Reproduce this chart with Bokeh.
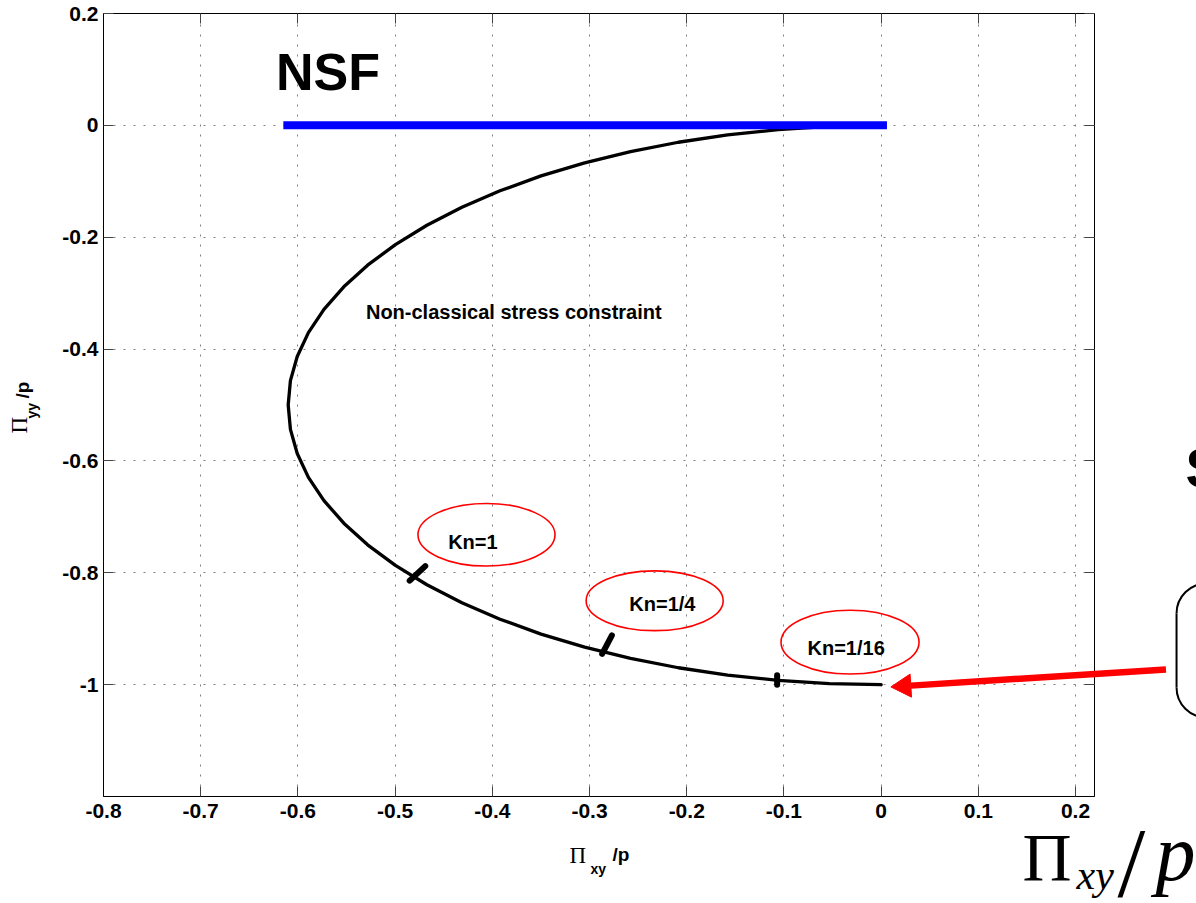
import math
from bokeh.plotting import figure
from bokeh.models import Range1d, LinearAxis, FixedTicker, ColumnDataSource
from bokeh.core.properties import value
from bokeh.embed import file_html
from bokeh.resources import INLINE

# ---------------- data ----------------
curve_x = [0.0, -0.0532, -0.1059, -0.1579, -0.2086, -0.2578, -0.3050, -0.3499, -0.3921, -0.4313,
           -0.4673, -0.4997, -0.5283, -0.5528, -0.5732, -0.5892, -0.6007, -0.6077, -0.6100,
           -0.6077, -0.6007, -0.5892, -0.5732, -0.5528, -0.5283, -0.4997, -0.4673, -0.4313,
           -0.3921, -0.3499, -0.3050, -0.2578, -0.2086, -0.1579, -0.1059, -0.0532, 0.0]
curve_y = [0.0, -0.0019, -0.0076, -0.0170, -0.0302, -0.0468, -0.0670, -0.0904, -0.1170, -0.1464,
           -0.1786, -0.2132, -0.2500, -0.2887, -0.3290, -0.3706, -0.4132, -0.4564, -0.5000,
           -0.5436, -0.5868, -0.6294, -0.6710, -0.7113, -0.7500, -0.7868, -0.8214, -0.8536,
           -0.8830, -0.9096, -0.9330, -0.9532, -0.9698, -0.9830, -0.9924, -0.9981, -1.0]

nsf_x = [-0.615, 0.006]
nsf_y = [0.0, 0.0]

kn_labels = ["Kn=1", "Kn=1/4", "Kn=1/16"]
kn_text_x = [-0.420, -0.225, -0.036]
kn_text_y = [-0.745, -0.856, -0.935]
kn_ell_x = [-0.406, -0.233, -0.032]
kn_ell_y = [-0.732, -0.850, -0.924]
kn_ell_w = [0.141, 0.141, 0.142]
kn_ell_h = [0.112, 0.107, 0.114]
kn_tick_x0 = [-0.469, -0.277, -0.107]
kn_tick_y0 = [-0.788, -0.912, -0.983]
kn_tick_x1 = [-0.485, -0.287, -0.107]
kn_tick_y1 = [-0.814, -0.945, -1.000]

arrow_tail = (0.293, -0.973)
arrow_tip = (0.010, -1.004)

x_ticks = [-0.8, -0.7, -0.6, -0.5, -0.4, -0.3, -0.2, -0.1, 0, 0.1, 0.2]
x_tick_labels = ["-0.8", "-0.7", "-0.6", "-0.5", "-0.4", "-0.3", "-0.2", "-0.1", "0", "0.1", "0.2"]
y_ticks = [0.2, 0, -0.2, -0.4, -0.6, -0.8, -1]
y_tick_labels = ["0.2", "0", "-0.2", "-0.4", "-0.6", "-0.8", "-1"]

SANS = "Liberation Sans"
SERIF = "Liberation Serif"

X0, X1, Y0, Y1 = -0.8, 0.2195, -1.2, 0.2
FW, FH = 991, 783
PX_X = FW / (X1 - X0)   # pixels per x unit
PX_Y = FH / (Y1 - Y0)   # pixels per y unit

p = figure(frame_width=FW, frame_height=FH,
           min_border_left=103, min_border_right=102, min_border_top=13, min_border_bottom=107,
           x_range=Range1d(X0, X1), y_range=Range1d(Y0, Y1),
           output_backend="svg", toolbar_location=None,
           background_fill_color="white", border_fill_color="white")

p.outline_line_color = "black"
p.outline_line_width = 1

for ax, ticks, labels in ((p.xaxis[0], x_ticks, x_tick_labels), (p.yaxis[0], y_ticks, y_tick_labels)):
    ax.ticker = FixedTicker(ticks=ticks)
    ax.major_label_overrides = {t: l for t, l in zip(ticks, labels)}
    ax.major_tick_in = 10
    ax.major_tick_out = 0
    ax.minor_tick_in = 0
    ax.minor_tick_out = 0
    ax.major_tick_line_color = "#444444"
    ax.axis_line_color = "black"
    ax.major_label_text_font = SANS
    ax.major_label_text_font_style = "bold"
    ax.major_label_text_font_size = "21px"
    ax.major_label_text_color = "black"
    ax.axis_label = None
p.xaxis[0].major_label_standoff = 7
p.yaxis[0].major_label_standoff = 5

for side, ticks in (("above", x_ticks), ("right", y_ticks)):
    extra = LinearAxis(ticker=FixedTicker(ticks=ticks), major_tick_in=10, major_tick_out=0,
                       minor_tick_in=0, minor_tick_out=0, major_label_standoff=0,
                       major_label_text_font_size="1px", major_label_text_color=None,
                       axis_line_color=None, major_tick_line_color="#444444")
    p.add_layout(extra, side)

for g in (p.xgrid[0], p.ygrid[0]):
    g.grid_line_color = "#808080"
    g.grid_line_dash = "2 8"
    g.grid_line_width = 1
p.xgrid[0].ticker = FixedTicker(ticks=x_ticks)
p.ygrid[0].ticker = FixedTicker(ticks=y_ticks)

# ---------------- marks ----------------
p.line(curve_x, curve_y, line_color="black", line_width=3.3, line_join="round", line_cap="round")
p.line(nsf_x, nsf_y, line_color="#0000ff", line_width=8, line_cap="butt")

p.segment(x0=kn_tick_x0, y0=kn_tick_y0, x1=kn_tick_x1, y1=kn_tick_y1,
          line_color="black", line_width=6, line_cap="round")

ell_src = ColumnDataSource(dict(x=kn_ell_x, y=kn_ell_y, w=kn_ell_w, h=kn_ell_h))
p.ellipse(x="x", y="y", width="w", height="h", source=ell_src,
          fill_color=None, line_color="#ff0000", line_width=1.6)

txt_src = ColumnDataSource(dict(x=kn_text_x, y=kn_text_y, t=kn_labels))
p.text(x="x", y="y", text="t", source=txt_src, text_font=value(SANS), text_font_style="bold",
       text_font_size="20px", text_align="center", text_baseline="middle", text_color="black")


def txt(x, y, t, font, size, style="normal", angle=0.0):
    # (x, y) is the wanted start of the alphabetic baseline; the renderer sits text about
    # 0.35 em below the anchor, so the anchor is raised by that amount.
    shift = 0.35 * size
    if angle == 0.0:
        y = y + shift / PX_Y
    else:
        x = x - shift / PX_X
    p.text(x=[x], y=[y], text=[t], text_font=value(font), text_font_size=f"{size}px",
           text_font_style=style, text_baseline="alphabetic", text_align="left",
           angle=angle, text_color="black", level="overlay")


txt(-0.6225, 0.0625, "NSF", SANS, 52, "bold")
txt(-0.530, -0.347, "Non-classical stress constraint", SANS, 20, "bold")

# ---------------- red arrow (shaft + head) drawn unclipped ----------------
dxp = (arrow_tip[0] - arrow_tail[0]) * PX_X
dyp = (arrow_tip[1] - arrow_tail[1]) * PX_Y
L = math.hypot(dxp, dyp)
ux, uy = dxp / L, dyp / L
head_len = 20.0
base = (arrow_tip[0] - ux * head_len / PX_X, arrow_tip[1] - uy * head_len / PX_Y)
cen = (arrow_tip[0] - ux * head_len * 2 / 3 / PX_X, arrow_tip[1] - uy * head_len * 2 / 3 / PX_Y)
p.segment(x0=[arrow_tail[0]], y0=[arrow_tail[1]], x1=[base[0]], y1=[base[1]],
          line_color="#ff0000", line_width=6.5, line_cap="butt", level="overlay")
p.scatter(x=[cen[0]], y=[cen[1]], marker="triangle", size=head_len * 2 / math.sqrt(3),
          angle=math.atan2(uy, ux) - math.pi / 2, fill_color="#ff0000", line_color="#ff0000",
          level="overlay")

# ---------------- axis titles (built from parts for subscripts) ----------------
txt(-0.3206, -1.3198, "Π", SERIF, 23)
txt(-0.2990, -1.3377, "xy", SANS, 14, "bold")
txt(-0.2763, -1.3162, "/p", SANS, 19, "bold")

txt(-0.8782, -0.551, "Π", SERIF, 23, angle=math.pi / 2)
txt(-0.8689, -0.5241, "yy", SANS, 14, "bold", angle=math.pi / 2)
txt(-0.8761, -0.4884, "/p", SANS, 19, "bold", angle=math.pi / 2)

# ---------------- right-hand slide fragments ----------------
txt(0.3132, -0.6475, "S", SANS, 56, "bold")
br_x, br_top, br_bot, br_r = 0.3039, -0.8728, -1.0051, 30
p.segment(x0=[br_x], y0=[br_top], x1=[br_x], y1=[br_bot], line_color="black", line_width=2,
          level="overlay")
p.arc(x=[br_x + br_r / PX_X, br_x + br_r / PX_X], y=[br_top, br_bot], radius=br_r,
      radius_units="screen", start_angle=[math.pi / 2, math.pi], end_angle=[math.pi, 1.5 * math.pi],
      line_color="black", line_width=2, level="overlay")
txt(0.1455, -1.3502, "Π", SERIF, 68)
txt(0.2010, -1.3663, "xy", SERIF, 42, "italic")
txt(0.2432, -1.3806, "/", SERIF, 100)
txt(0.2823, -1.3502, "p", SERIF, 80, "italic")

open("out.html", "w").write(file_html(p, INLINE))
